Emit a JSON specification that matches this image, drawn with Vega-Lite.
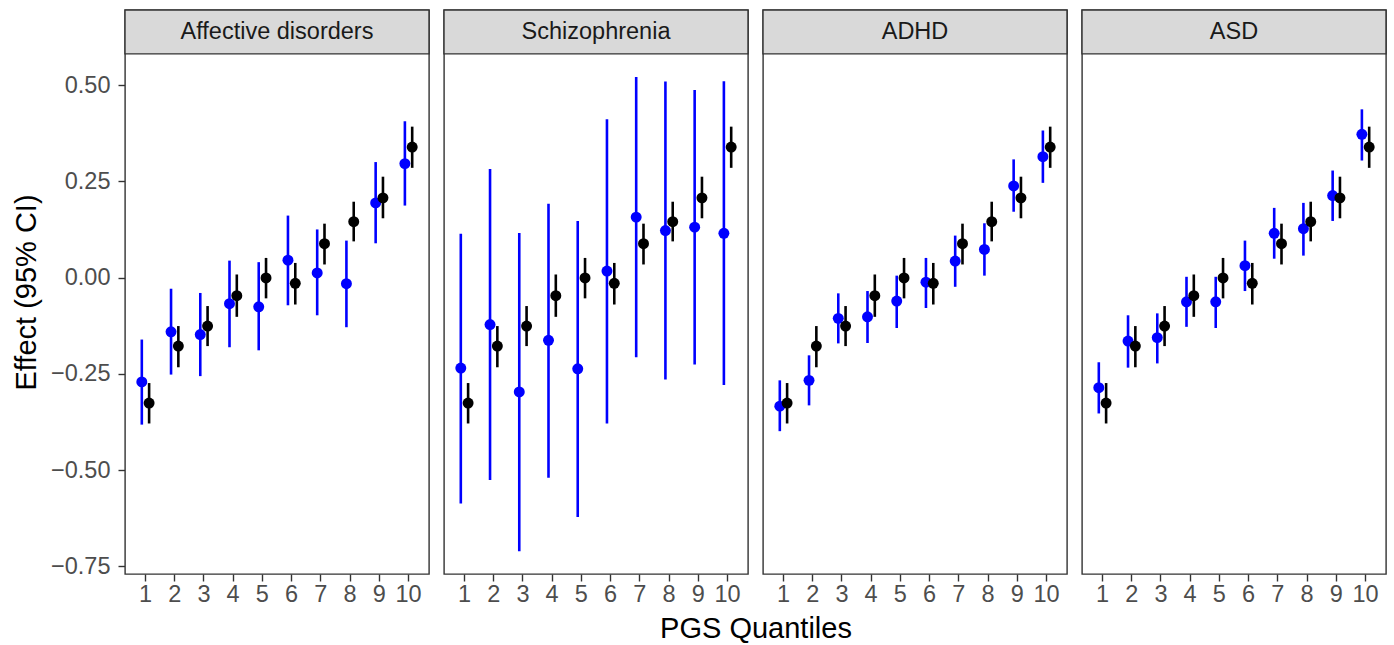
{
  "$schema": "https://vega.github.io/schema/vega-lite/v6.json",
  "background": "white",
  "padding": {"left": 12, "top": 8, "right": 8, "bottom": 0},
  "data": {"values": [
    {"panel": "Affective disorders", "q": 1, "model": "Disorder-specific", "est": -0.271, "lo": -0.382, "hi": -0.161},
    {"panel": "Affective disorders", "q": 2, "model": "Disorder-specific", "est": -0.141, "lo": -0.252, "hi": -0.029},
    {"panel": "Affective disorders", "q": 3, "model": "Disorder-specific", "est": -0.148, "lo": -0.256, "hi": -0.040},
    {"panel": "Affective disorders", "q": 4, "model": "Disorder-specific", "est": -0.068, "lo": -0.181, "hi": 0.044},
    {"panel": "Affective disorders", "q": 5, "model": "Disorder-specific", "est": -0.076, "lo": -0.189, "hi": 0.040},
    {"panel": "Affective disorders", "q": 6, "model": "Disorder-specific", "est": 0.045, "lo": -0.072, "hi": 0.161},
    {"panel": "Affective disorders", "q": 7, "model": "Disorder-specific", "est": 0.012, "lo": -0.098, "hi": 0.125},
    {"panel": "Affective disorders", "q": 8, "model": "Disorder-specific", "est": -0.016, "lo": -0.129, "hi": 0.096},
    {"panel": "Affective disorders", "q": 9, "model": "Disorder-specific", "est": 0.194, "lo": 0.089, "hi": 0.300},
    {"panel": "Affective disorders", "q": 10, "model": "Disorder-specific", "est": 0.296, "lo": 0.187, "hi": 0.406},
    {"panel": "Schizophrenia", "q": 1, "model": "Disorder-specific", "est": -0.235, "lo": -0.587, "hi": 0.114},
    {"panel": "Schizophrenia", "q": 2, "model": "Disorder-specific", "est": -0.122, "lo": -0.526, "hi": 0.282},
    {"panel": "Schizophrenia", "q": 3, "model": "Disorder-specific", "est": -0.297, "lo": -0.711, "hi": 0.116},
    {"panel": "Schizophrenia", "q": 4, "model": "Disorder-specific", "est": -0.163, "lo": -0.520, "hi": 0.192},
    {"panel": "Schizophrenia", "q": 5, "model": "Disorder-specific", "est": -0.237, "lo": -0.622, "hi": 0.147},
    {"panel": "Schizophrenia", "q": 6, "model": "Disorder-specific", "est": 0.017, "lo": -0.379, "hi": 0.411},
    {"panel": "Schizophrenia", "q": 7, "model": "Disorder-specific", "est": 0.157, "lo": -0.207, "hi": 0.521},
    {"panel": "Schizophrenia", "q": 8, "model": "Disorder-specific", "est": 0.122, "lo": -0.265, "hi": 0.509},
    {"panel": "Schizophrenia", "q": 9, "model": "Disorder-specific", "est": 0.131, "lo": -0.226, "hi": 0.487},
    {"panel": "Schizophrenia", "q": 10, "model": "Disorder-specific", "est": 0.115, "lo": -0.279, "hi": 0.510},
    {"panel": "ADHD", "q": 1, "model": "Disorder-specific", "est": -0.334, "lo": -0.399, "hi": -0.267},
    {"panel": "ADHD", "q": 2, "model": "Disorder-specific", "est": -0.267, "lo": -0.332, "hi": -0.202},
    {"panel": "ADHD", "q": 3, "model": "Disorder-specific", "est": -0.106, "lo": -0.171, "hi": -0.041},
    {"panel": "ADHD", "q": 4, "model": "Disorder-specific", "est": -0.102, "lo": -0.170, "hi": -0.035},
    {"panel": "ADHD", "q": 5, "model": "Disorder-specific", "est": -0.061, "lo": -0.131, "hi": 0.005},
    {"panel": "ADHD", "q": 6, "model": "Disorder-specific", "est": -0.012, "lo": -0.079, "hi": 0.051},
    {"panel": "ADHD", "q": 7, "model": "Disorder-specific", "est": 0.043, "lo": -0.024, "hi": 0.109},
    {"panel": "ADHD", "q": 8, "model": "Disorder-specific", "est": 0.073, "lo": 0.005, "hi": 0.141},
    {"panel": "ADHD", "q": 9, "model": "Disorder-specific", "est": 0.238, "lo": 0.171, "hi": 0.307},
    {"panel": "ADHD", "q": 10, "model": "Disorder-specific", "est": 0.314, "lo": 0.246, "hi": 0.382},
    {"panel": "ASD", "q": 1, "model": "Disorder-specific", "est": -0.286, "lo": -0.353, "hi": -0.220},
    {"panel": "ASD", "q": 2, "model": "Disorder-specific", "est": -0.165, "lo": -0.234, "hi": -0.098},
    {"panel": "ASD", "q": 3, "model": "Disorder-specific", "est": -0.156, "lo": -0.223, "hi": -0.093},
    {"panel": "ASD", "q": 4, "model": "Disorder-specific", "est": -0.063, "lo": -0.128, "hi": 0.002},
    {"panel": "ASD", "q": 5, "model": "Disorder-specific", "est": -0.063, "lo": -0.131, "hi": 0.002},
    {"panel": "ASD", "q": 6, "model": "Disorder-specific", "est": 0.031, "lo": -0.035, "hi": 0.096},
    {"panel": "ASD", "q": 7, "model": "Disorder-specific", "est": 0.115, "lo": 0.049, "hi": 0.181},
    {"panel": "ASD", "q": 8, "model": "Disorder-specific", "est": 0.127, "lo": 0.057, "hi": 0.194},
    {"panel": "ASD", "q": 9, "model": "Disorder-specific", "est": 0.213, "lo": 0.147, "hi": 0.278},
    {"panel": "ASD", "q": 10, "model": "Disorder-specific", "est": 0.372, "lo": 0.304, "hi": 0.437},
    {"panel": "Affective disorders", "q": 1, "model": "Overall", "est": -0.326, "lo": -0.379, "hi": -0.274},
    {"panel": "Affective disorders", "q": 2, "model": "Overall", "est": -0.178, "lo": -0.233, "hi": -0.126},
    {"panel": "Affective disorders", "q": 3, "model": "Overall", "est": -0.126, "lo": -0.178, "hi": -0.074},
    {"panel": "Affective disorders", "q": 4, "model": "Overall", "est": -0.047, "lo": -0.102, "hi": 0.008},
    {"panel": "Affective disorders", "q": 5, "model": "Overall", "est": -0.001, "lo": -0.054, "hi": 0.051},
    {"panel": "Affective disorders", "q": 6, "model": "Overall", "est": -0.015, "lo": -0.070, "hi": 0.038},
    {"panel": "Affective disorders", "q": 7, "model": "Overall", "est": 0.088, "lo": 0.034, "hi": 0.140},
    {"panel": "Affective disorders", "q": 8, "model": "Overall", "est": 0.145, "lo": 0.094, "hi": 0.197},
    {"panel": "Affective disorders", "q": 9, "model": "Overall", "est": 0.207, "lo": 0.154, "hi": 0.262},
    {"panel": "Affective disorders", "q": 10, "model": "Overall", "est": 0.339, "lo": 0.285, "hi": 0.392},
    {"panel": "Schizophrenia", "q": 1, "model": "Overall", "est": -0.326, "lo": -0.379, "hi": -0.274},
    {"panel": "Schizophrenia", "q": 2, "model": "Overall", "est": -0.178, "lo": -0.233, "hi": -0.126},
    {"panel": "Schizophrenia", "q": 3, "model": "Overall", "est": -0.126, "lo": -0.178, "hi": -0.074},
    {"panel": "Schizophrenia", "q": 4, "model": "Overall", "est": -0.047, "lo": -0.102, "hi": 0.008},
    {"panel": "Schizophrenia", "q": 5, "model": "Overall", "est": -0.001, "lo": -0.054, "hi": 0.051},
    {"panel": "Schizophrenia", "q": 6, "model": "Overall", "est": -0.015, "lo": -0.070, "hi": 0.038},
    {"panel": "Schizophrenia", "q": 7, "model": "Overall", "est": 0.088, "lo": 0.034, "hi": 0.140},
    {"panel": "Schizophrenia", "q": 8, "model": "Overall", "est": 0.145, "lo": 0.094, "hi": 0.197},
    {"panel": "Schizophrenia", "q": 9, "model": "Overall", "est": 0.207, "lo": 0.154, "hi": 0.262},
    {"panel": "Schizophrenia", "q": 10, "model": "Overall", "est": 0.339, "lo": 0.285, "hi": 0.392},
    {"panel": "ADHD", "q": 1, "model": "Overall", "est": -0.326, "lo": -0.379, "hi": -0.274},
    {"panel": "ADHD", "q": 2, "model": "Overall", "est": -0.178, "lo": -0.233, "hi": -0.126},
    {"panel": "ADHD", "q": 3, "model": "Overall", "est": -0.126, "lo": -0.178, "hi": -0.074},
    {"panel": "ADHD", "q": 4, "model": "Overall", "est": -0.047, "lo": -0.102, "hi": 0.008},
    {"panel": "ADHD", "q": 5, "model": "Overall", "est": -0.001, "lo": -0.054, "hi": 0.051},
    {"panel": "ADHD", "q": 6, "model": "Overall", "est": -0.015, "lo": -0.070, "hi": 0.038},
    {"panel": "ADHD", "q": 7, "model": "Overall", "est": 0.088, "lo": 0.034, "hi": 0.140},
    {"panel": "ADHD", "q": 8, "model": "Overall", "est": 0.145, "lo": 0.094, "hi": 0.197},
    {"panel": "ADHD", "q": 9, "model": "Overall", "est": 0.207, "lo": 0.154, "hi": 0.262},
    {"panel": "ADHD", "q": 10, "model": "Overall", "est": 0.339, "lo": 0.285, "hi": 0.392},
    {"panel": "ASD", "q": 1, "model": "Overall", "est": -0.326, "lo": -0.379, "hi": -0.274},
    {"panel": "ASD", "q": 2, "model": "Overall", "est": -0.178, "lo": -0.233, "hi": -0.126},
    {"panel": "ASD", "q": 3, "model": "Overall", "est": -0.126, "lo": -0.178, "hi": -0.074},
    {"panel": "ASD", "q": 4, "model": "Overall", "est": -0.047, "lo": -0.102, "hi": 0.008},
    {"panel": "ASD", "q": 5, "model": "Overall", "est": -0.001, "lo": -0.054, "hi": 0.051},
    {"panel": "ASD", "q": 6, "model": "Overall", "est": -0.015, "lo": -0.070, "hi": 0.038},
    {"panel": "ASD", "q": 7, "model": "Overall", "est": 0.088, "lo": 0.034, "hi": 0.140},
    {"panel": "ASD", "q": 8, "model": "Overall", "est": 0.145, "lo": 0.094, "hi": 0.197},
    {"panel": "ASD", "q": 9, "model": "Overall", "est": 0.207, "lo": 0.154, "hi": 0.262},
    {"panel": "ASD", "q": 10, "model": "Overall", "est": 0.339, "lo": 0.285, "hi": 0.392}
  ]},
  "facet": {
    "column": {
      "field": "panel",
      "type": "nominal",
      "sort": ["Affective disorders", "Schizophrenia", "ADHD", "ASD"],
      "header": {
        "labels": false,
        "title": "PGS Quantiles",
        "titleOrient": "bottom",
        "titleFont": "Liberation Sans",
        "titleFontSize": 29,
        "titleFontWeight": "normal",
        "titleColor": "#000000",
        "titlePadding": -1
      }
    }
  },
  "spacing": {"column": 15, "row": 15},
  "bounds": "flush",
  "spec": {
    "width": 304,
    "height": 564,
    "encoding": {
      "x": {
        "field": "q",
        "type": "ordinal",
        "title": null,
        "scale": {"type": "band", "paddingInner": 0, "paddingOuter": 0.2},
        "axis": {"labelAngle": 0, "labelPadding": 1}
      }
    },
    "layer": [
      {
        "mark": {"type": "rule", "strokeWidth": 2.6},
        "encoding": {
          "xOffset": {"field": "model", "type": "nominal", "sort": ["Disorder-specific", "Overall"], "scale": {"paddingOuter": 1, "paddingInner": 0}},
          "y": {
            "field": "lo",
            "type": "quantitative",
            "title": "Effect (95% CI)",
            "scale": {"domain": [-0.77, 0.695], "nice": false, "zero": false},
            "axis": {"values": [-0.75, -0.5, -0.25, 0, 0.25, 0.5], "format": ".2f", "labelPadding": 8, "titlePadding": 9}
          },
          "y2": {"field": "hi"},
          "color": {"field": "model", "type": "nominal", "scale": {"domain": ["Disorder-specific", "Overall"], "range": ["#0000ff", "#000000"]}, "legend": null}
        }
      },
      {
        "mark": {"type": "point", "filled": true, "size": 120, "opacity": 1},
        "encoding": {
          "xOffset": {"field": "model", "type": "nominal", "sort": ["Disorder-specific", "Overall"]},
          "y": {"field": "est", "type": "quantitative", "title": "Effect (95% CI)"},
          "color": {"field": "model", "type": "nominal", "legend": null}
        }
      },
      {
        "transform": [{"filter": "datum.q == 1 && datum.model == 'Overall'"}],
        "mark": {"type": "rect", "fill": "#d9d9d9", "stroke": "#333333", "strokeWidth": 1.4},
        "encoding": {
          "x": null,
          "y": {"datum": 0.581, "type": "quantitative", "title": "Effect (95% CI)"},
          "y2": {"datum": 0.695}
        }
      },
      {
        "transform": [{"filter": "datum.q == 1 && datum.model == 'Overall'"}],
        "mark": {"type": "text", "font": "Liberation Sans", "fontSize": 23.5, "color": "#1a1a1a", "baseline": "middle", "align": "center"},
        "encoding": {
          "x": null,
          "y": {"datum": 0.638, "type": "quantitative", "title": "Effect (95% CI)"},
          "text": {"field": "panel"}
        }
      }
    ]
  },
  "config": {
    "facet": {"spacing": 15},
    "view": {"stroke": "#333333", "strokeWidth": 1.4, "fill": "white"},
    "axis": {
      "domain": false,
      "grid": false,
      "ticks": true,
      "tickColor": "#333333",
      "tickWidth": 1.4,
      "tickSize": 7,
      "labelFont": "Liberation Sans",
      "labelFontSize": 23.5,
      "labelColor": "#4d4d4d",
      "labelPadding": 3,
      "titleFont": "Liberation Sans",
      "titleFontSize": 29,
      "titleFontWeight": "normal",
      "titleColor": "#000000",
      "titlePadding": 9
    }
  }
}
